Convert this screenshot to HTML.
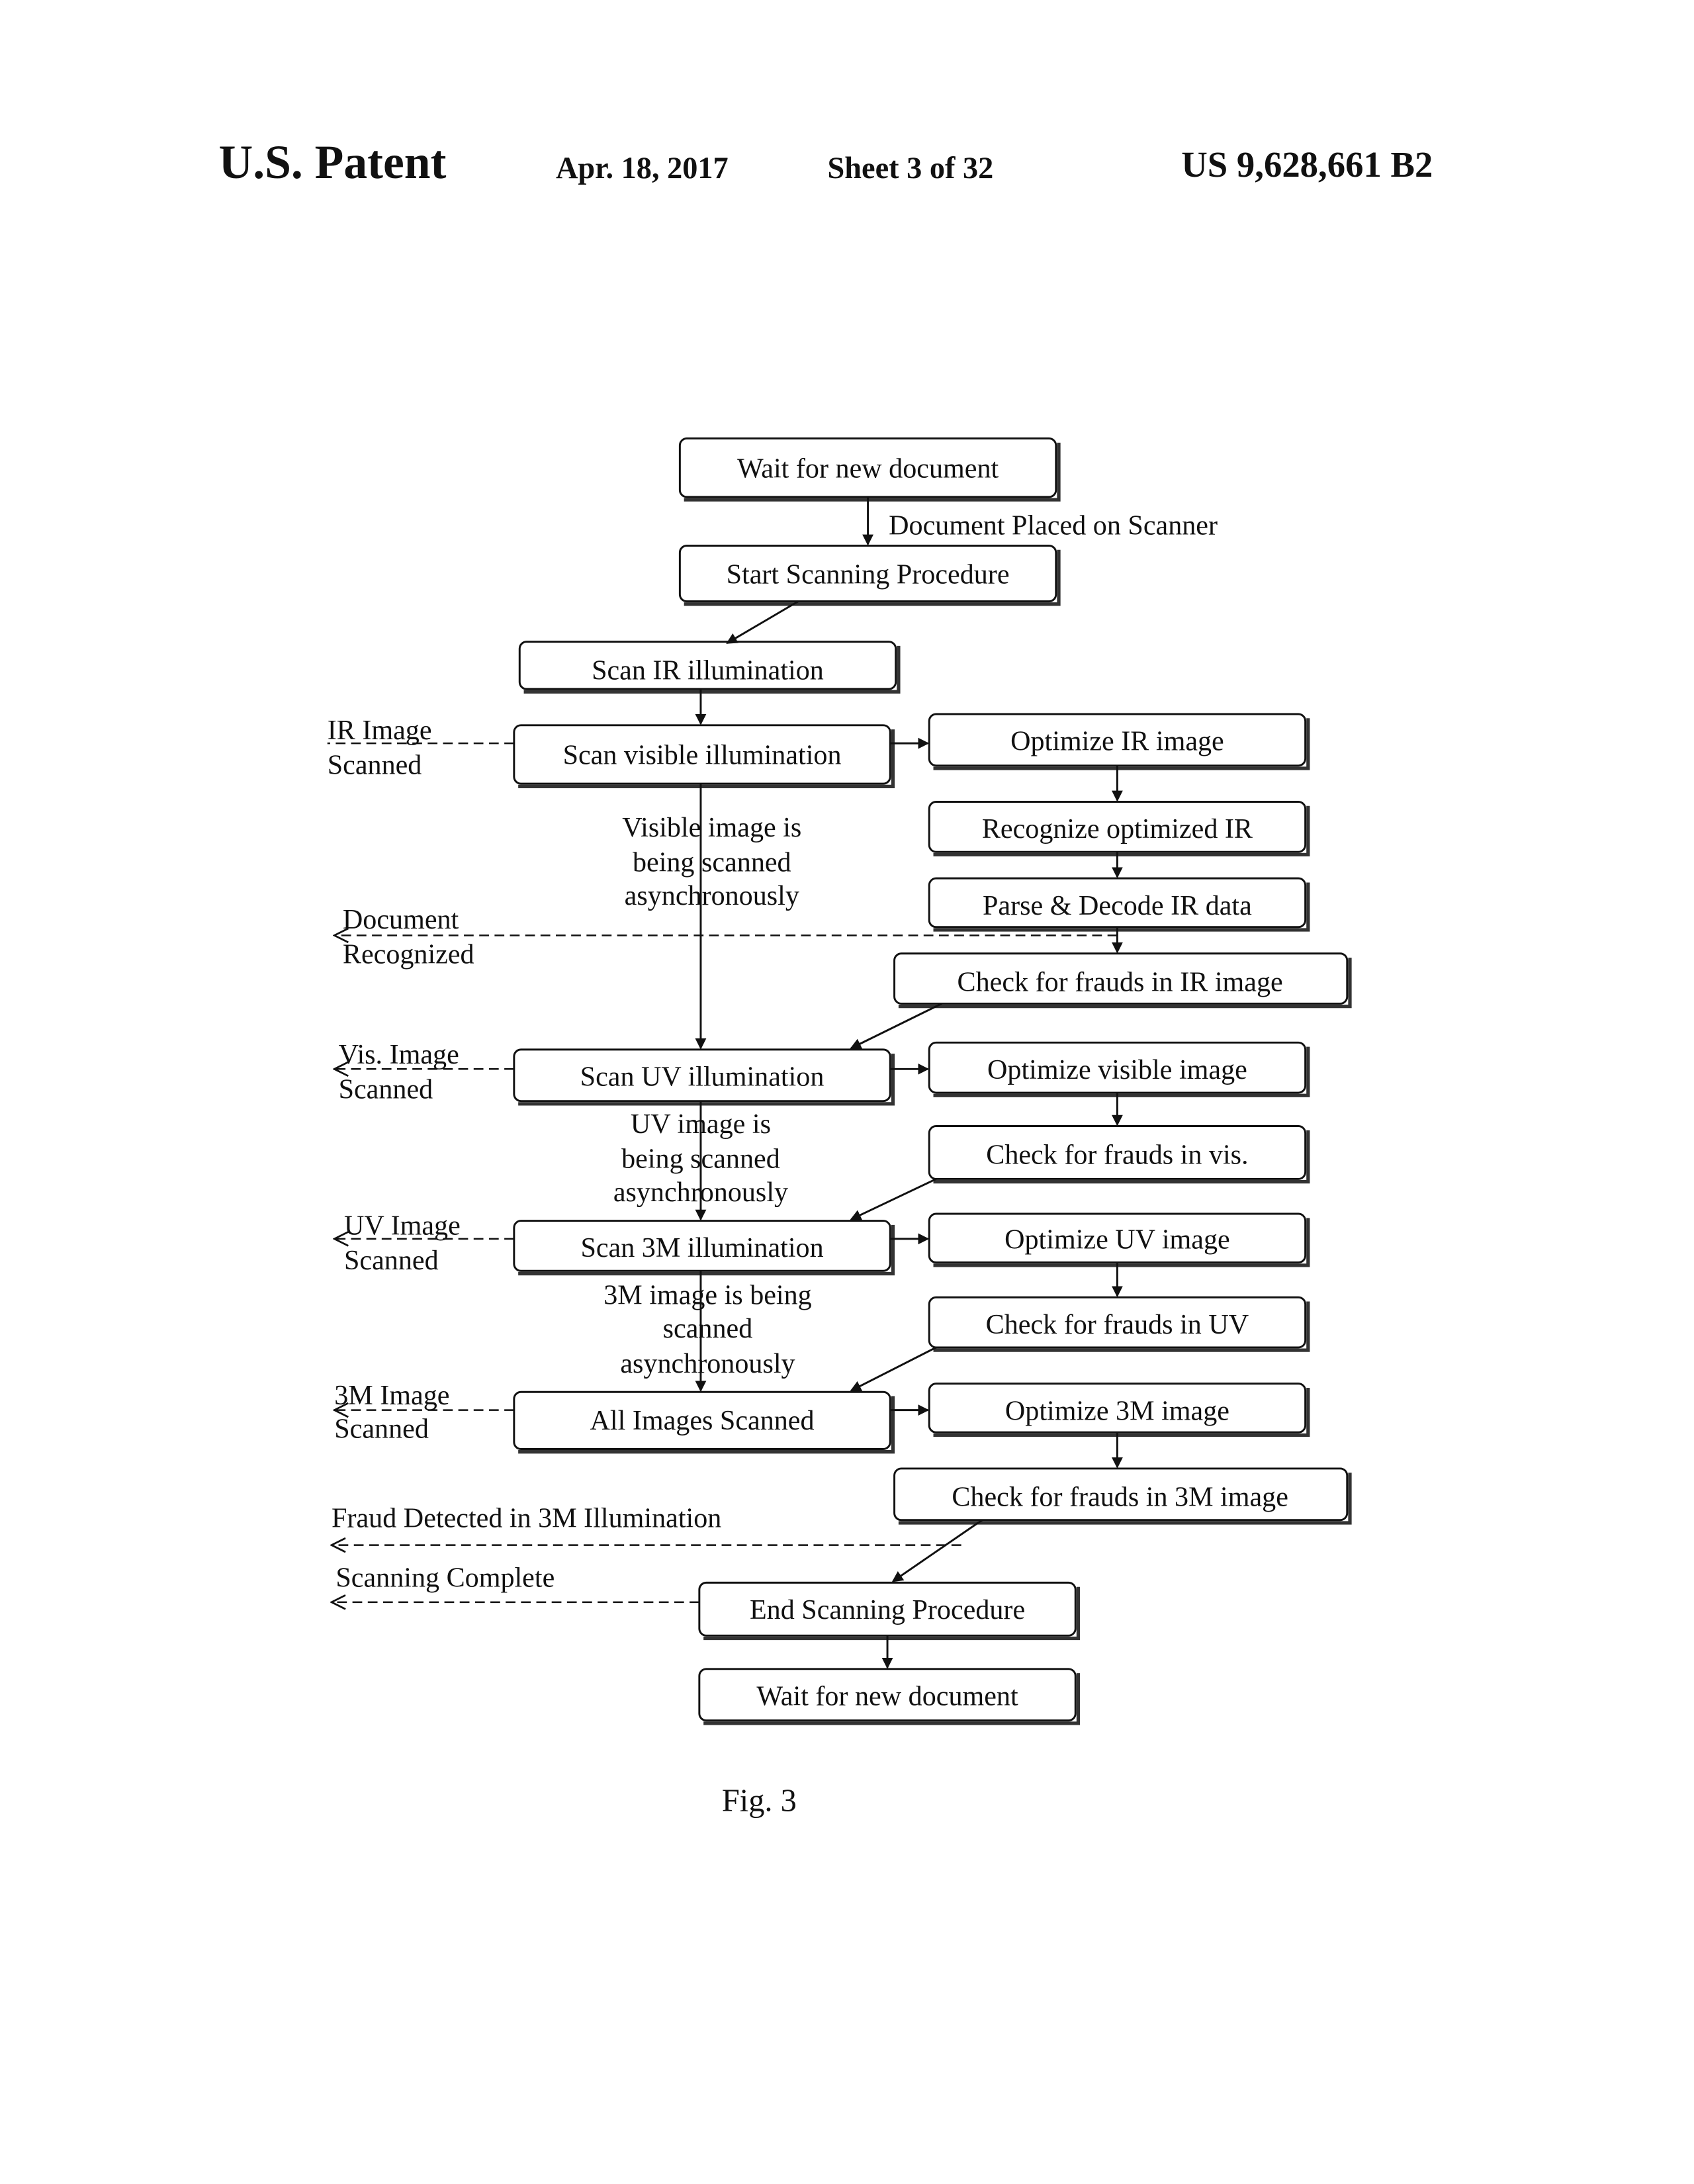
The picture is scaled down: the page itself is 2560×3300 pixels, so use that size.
<!DOCTYPE html>
<html><head><meta charset="utf-8"><style>
html,body{margin:0;padding:0;background:#fff;}
svg{display:block;}
text{font-family:"Liberation Serif",serif;fill:#111;}
</style></head><body>
<svg width="2560" height="3300" viewBox="0 0 1216 1569" preserveAspectRatio="none" xmlns="http://www.w3.org/2000/svg">
<defs>
<marker id="a" markerWidth="8" markerHeight="8" refX="7" refY="4" orient="auto" markerUnits="userSpaceOnUse"><path d="M0,0 L8,4 L0,8 z" fill="#111"/></marker>
<marker id="o" markerWidth="12" markerHeight="12" refX="11" refY="6" orient="auto" markerUnits="userSpaceOnUse"><path d="M1,1 L11,6 L1,11" fill="none" stroke="#111" stroke-width="1.3"/></marker>
</defs>
<text x="157" y="128" font-size="34" font-weight="bold">U.S. Patent</text>
<text x="399" y="128" font-size="22" font-weight="bold">Apr. 18, 2017</text>
<text x="594" y="128" font-size="22" font-weight="bold">Sheet 3 of 32</text>
<text x="848" y="127" font-size="26" font-weight="bold">US 9,628,661 B2</text>

<g fill="none" stroke="#111" stroke-width="1.4">
<g stroke-width="2.5" stroke="#333">
<path d="M760,318 V359 H491"/><path d="M760,395 V434 H491"/><path d="M645,464 V497 H376"/>
<path d="M641,524 V565 H372"/><path d="M939,516 V552 H670"/><path d="M939,579 V614 H670"/>
<path d="M939,634 V668 H670"/><path d="M969,688 V723 H645"/><path d="M641,757 V793 H372"/>
<path d="M939,752 V787 H670"/><path d="M939,812 V849 H670"/><path d="M641,880 V915 H372"/>
<path d="M939,875 V909 H670"/><path d="M939,935 V970 H670"/><path d="M641,1003 V1043 H372"/>
<path d="M939,997 V1031 H670"/><path d="M969,1058 V1094 H645"/><path d="M774,1140 V1177 H505"/>
<path d="M774,1202 V1238 H505"/>
</g>
<rect x="488" y="315" width="270" height="42" rx="5"/>
<rect x="488" y="392" width="270" height="40" rx="5"/>
<rect x="373" y="461" width="270" height="34" rx="5"/>
<rect x="369" y="521" width="270" height="42" rx="5"/>
<rect x="667" y="513" width="270" height="37" rx="5"/>
<rect x="667" y="576" width="270" height="36" rx="5"/>
<rect x="667" y="631" width="270" height="35" rx="5"/>
<rect x="642" y="685" width="325" height="36" rx="5"/>
<rect x="369" y="754" width="270" height="37" rx="5"/>
<rect x="667" y="749" width="270" height="36" rx="5"/>
<rect x="667" y="809" width="270" height="38" rx="5"/>
<rect x="369" y="877" width="270" height="36" rx="5"/>
<rect x="667" y="872" width="270" height="35" rx="5"/>
<rect x="667" y="932" width="270" height="36" rx="5"/>
<rect x="369" y="1000" width="270" height="41" rx="5"/>
<rect x="667" y="994" width="270" height="35" rx="5"/>
<rect x="642" y="1055" width="325" height="37" rx="5"/>
<rect x="502" y="1137" width="270" height="38" rx="5"/>
<rect x="502" y="1199" width="270" height="37" rx="5"/>

<g marker-end="url(#a)">
<path d="M623,357 V391"/><path d="M573,432 L522,462"/><path d="M503,495 V520"/>
<path d="M503,563 V753"/><path d="M639,534 H666"/><path d="M802,550 V575"/>
<path d="M802,612 V630"/><path d="M802,666 V684"/><path d="M676,721 L611,753"/>
<path d="M639,768 H666"/><path d="M802,785 V808"/><path d="M672,847 L611,876"/>
<path d="M503,791 V876"/><path d="M639,890 H666"/><path d="M802,907 V931"/>
<path d="M672,968 L611,999"/><path d="M503,913 V999"/><path d="M639,1013 H666"/>
<path d="M802,1029 V1054"/><path d="M705,1092 L641,1136"/><path d="M637,1175 V1198"/>
</g>
<g stroke-dasharray="7,4" stroke-width="1.2">
<path d="M802,672 H240" marker-end="url(#o)"/>
<path d="M369,534 H235"/>
<path d="M369,768 H240" marker-end="url(#o)"/>
<path d="M369,890 H240" marker-end="url(#o)"/>
<path d="M369,1013 H240" marker-end="url(#o)"/>
<path d="M690,1110 H238" marker-end="url(#o)"/>
<path d="M502,1151 H238" marker-end="url(#o)"/>
</g>
</g>

<g font-size="20" text-anchor="middle">
<text x="623" y="343">Wait for new document</text>
<text x="623" y="419">Start Scanning Procedure</text>
<text x="508" y="488">Scan IR illumination</text>
<text x="504" y="549">Scan visible illumination</text>
<text x="802" y="539">Optimize IR image</text>
<text x="802" y="602">Recognize optimized IR</text>
<text x="802" y="657">Parse &amp; Decode IR data</text>
<text x="804" y="712">Check for frauds in IR image</text>
<text x="504" y="780">Scan UV illumination</text>
<text x="802" y="775">Optimize visible image</text>
<text x="802" y="836">Check for frauds in vis.</text>
<text x="504" y="903">Scan 3M illumination</text>
<text x="802" y="897">Optimize UV image</text>
<text x="802" y="958">Check for frauds in UV</text>
<text x="504" y="1027">All Images Scanned</text>
<text x="802" y="1020">Optimize 3M image</text>
<text x="804" y="1082">Check for frauds in 3M image</text>
<text x="637" y="1163">End Scanning Procedure</text>
<text x="637" y="1225">Wait for new document</text>
<text x="511" y="601">Visible image is</text>
<text x="511" y="626">being scanned</text>
<text x="511" y="650">asynchronously</text>
<text x="503" y="814">UV  image is</text>
<text x="503" y="839">being scanned</text>
<text x="503" y="863">asynchronously</text>
<text x="508" y="937">3M image is being</text>
<text x="508" y="961">scanned</text>
<text x="508" y="986">asynchronously</text>
<text x="545" y="1301" font-size="23">Fig. 3</text>
</g>
<g font-size="20">
<text x="638" y="384">Document Placed on Scanner</text>
<text x="235" y="531">IR   Image</text><text x="235" y="556">Scanned</text>
<text x="246" y="667">Document</text><text x="246" y="692">Recognized</text>
<text x="243" y="764">Vis. Image</text><text x="243" y="789">Scanned</text>
<text x="247" y="887">UV Image</text><text x="247" y="912">Scanned</text>
<text x="240" y="1009">3M   Image</text><text x="240" y="1033">Scanned</text>
<text x="238" y="1097">Fraud Detected in 3M Illumination</text>
<text x="241" y="1140">Scanning Complete</text>
</g>
</svg>
</body></html>
